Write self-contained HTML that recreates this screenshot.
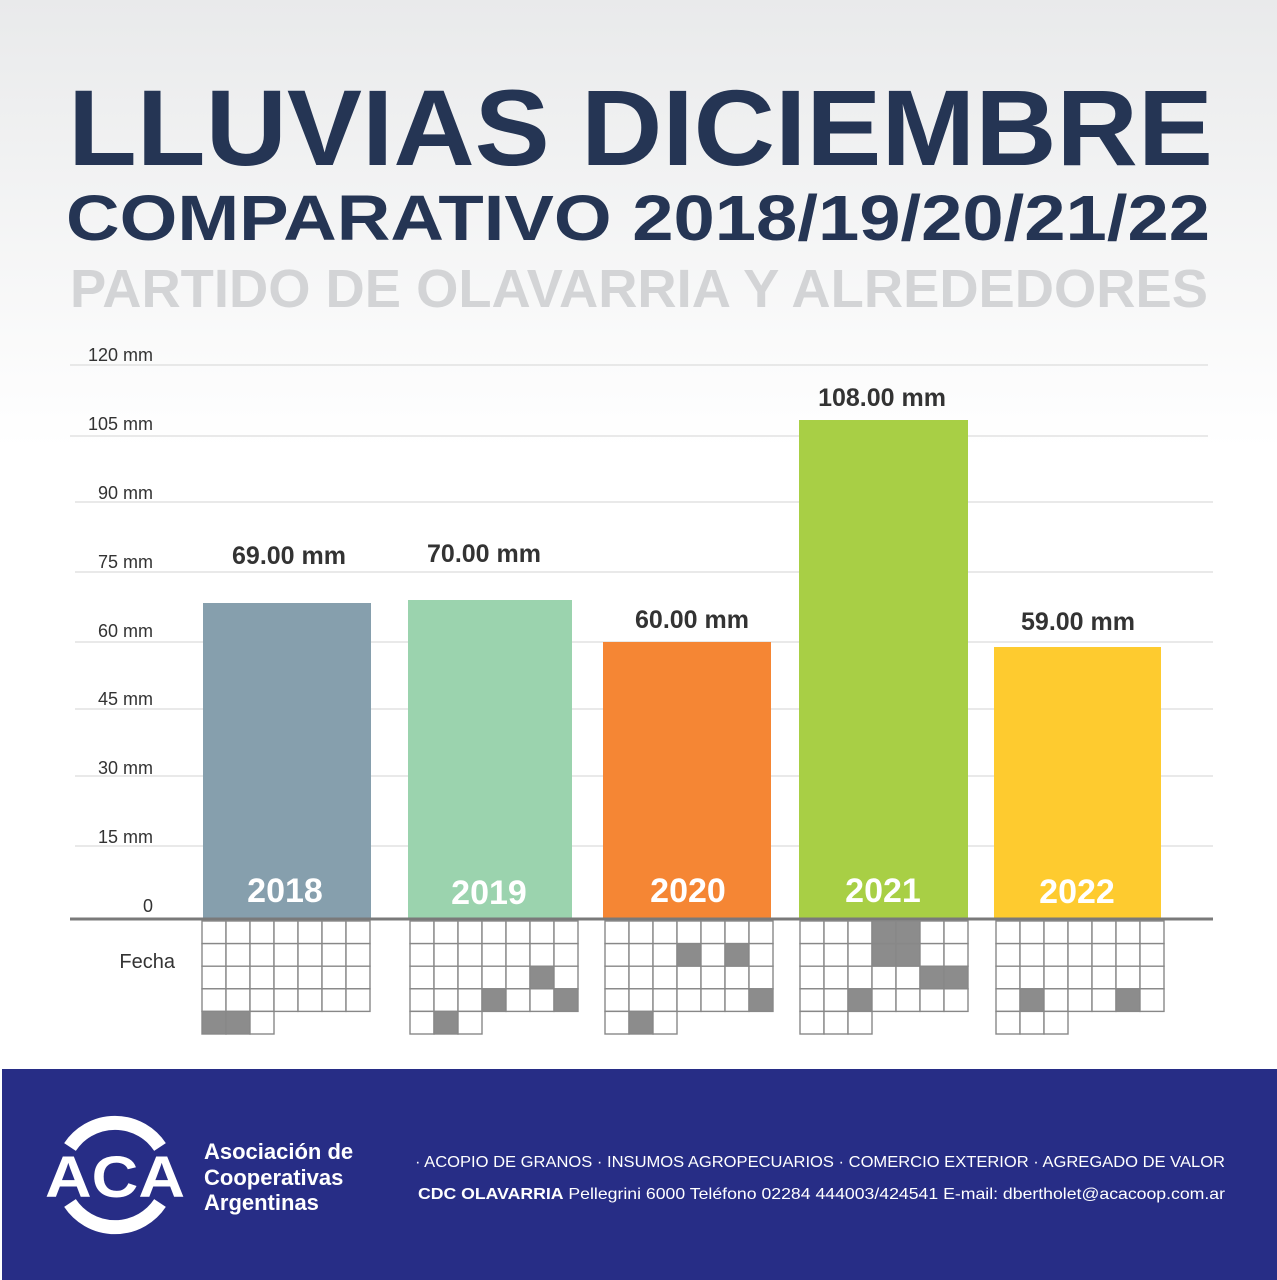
<!DOCTYPE html>
<html><head><meta charset="utf-8"><style>
html,body{margin:0;padding:0;width:1277px;height:1280px;overflow:hidden;background:#fff}
svg{display:block}
</style></head><body>
<svg id="s" width="1277" height="1280" viewBox="0 0 1277 1280" xmlns="http://www.w3.org/2000/svg" font-family="'Liberation Sans', sans-serif">
<defs>
<linearGradient id="bg" x1="0" y1="0" x2="0" y2="1">
<stop offset="0" stop-color="#e9eaeb"/><stop offset="0.35" stop-color="#ffffff"/><stop offset="1" stop-color="#ffffff"/>
</linearGradient>
</defs>
<rect x="0" y="0" width="1277" height="1280" fill="url(#bg)"/>
<text x="68" y="165" font-size="108" font-weight="bold" fill="#253554" textLength="1145" lengthAdjust="spacingAndGlyphs">LLUVIAS DICIEMBRE</text>
<text x="66" y="240" font-size="64" font-weight="bold" fill="#253554" textLength="1144" lengthAdjust="spacingAndGlyphs">COMPARATIVO 2018/19/20/21/22</text>
<text x="70" y="307" font-size="54" font-weight="bold" fill="#d3d4d6" textLength="1138" lengthAdjust="spacingAndGlyphs">PARTIDO DE OLAVARRIA Y ALREDEDORES</text>
<g stroke="#dcdcdc" stroke-width="1.2">
<line x1="70" y1="365" x2="1208" y2="365"/><line x1="70" y1="436" x2="1208" y2="436"/>
<line x1="75" y1="502" x2="1213" y2="502"/><line x1="75" y1="572" x2="1213" y2="572"/>
<line x1="75" y1="642" x2="1213" y2="642"/><line x1="75" y1="709" x2="1213" y2="709"/>
<line x1="75" y1="776" x2="1213" y2="776"/><line x1="75" y1="846" x2="1213" y2="846"/>
</g>
<g font-size="18" fill="#333" text-anchor="end">
<text x="153" y="361">120 mm</text><text x="153" y="430">105 mm</text><text x="153" y="499">90 mm</text>
<text x="153" y="568">75 mm</text><text x="153" y="637">60 mm</text><text x="153" y="705">45 mm</text>
<text x="153" y="774">30 mm</text><text x="153" y="843">15 mm</text><text x="153" y="912">0</text>
</g>
<text x="175" y="968" font-size="20" fill="#333" text-anchor="end">Fecha</text>
<rect x="203" y="603" width="168" height="316" fill="#869fad"/>
<rect x="408" y="600" width="164" height="319" fill="#9bd3ae"/>
<rect x="603" y="642" width="168" height="277" fill="#f58634"/>
<rect x="799" y="420" width="169" height="499" fill="#a8cf45"/>
<rect x="994" y="647" width="167" height="272" fill="#fecb2f"/>
<g font-size="25" font-weight="bold" fill="#333" text-anchor="middle">
<text x="289" y="564">69.00 mm</text><text x="484" y="562">70.00 mm</text>
<text x="692" y="628">60.00 mm</text><text x="882" y="406">108.00 mm</text>
<text x="1078" y="630">59.00 mm</text>
</g>
<g font-size="34" font-weight="bold" fill="#fff" text-anchor="middle">
<text x="285" y="902">2018</text><text x="489" y="904">2019</text><text x="688" y="902">2020</text>
<text x="883" y="902">2021</text><text x="1077" y="903">2022</text>
</g>
<line x1="70" y1="919" x2="1213" y2="919" stroke="#7a7a7a" stroke-width="3"/>
<g id="cal"></g>
<rect x="2" y="1069" width="1275" height="211" fill="#272d86"/>
<g stroke="#fff" stroke-width="14" fill="none">
<path d="M 70 1147 A 54 54 0 0 1 160 1147"/>
<path d="M 70 1203 A 54 54 0 0 0 160 1203"/>
</g>
<text x="115" y="1197" font-size="58" font-weight="bold" fill="#fff" text-anchor="middle" textLength="140" lengthAdjust="spacingAndGlyphs">ACA</text>
<g font-size="22" font-weight="bold" fill="#fff">
<text x="204" y="1159">Asociación de</text><text x="204" y="1185">Cooperativas</text><text x="204" y="1210">Argentinas</text>
</g>
<text x="415" y="1167" font-size="16" fill="#fff" textLength="810" lengthAdjust="spacingAndGlyphs">·  ACOPIO DE GRANOS  ·  INSUMOS AGROPECUARIOS  ·  COMERCIO EXTERIOR  ·  AGREGADO DE VALOR</text>
<text x="418" y="1199" font-size="16" fill="#fff" textLength="807" lengthAdjust="spacingAndGlyphs"><tspan font-weight="bold">CDC OLAVARRIA</tspan> Pellegrini 6000 Teléfono 02284 444003/424541 E-mail: dbertholet@acacoop.com.ar</text>
</svg>
<script>
var cals=[[202,[[4,0],[4,1]]],[410,[[2,5],[3,3],[3,6],[4,1]]],[605,[[1,3],[1,5],[3,6],[4,1]]],[800,[[0,3],[0,4],[1,3],[1,4],[2,5],[2,6],[3,2]]],[996,[[3,1],[3,5]]]];
var g=document.getElementById('cal'),h='';
cals.forEach(function(c){var x0=c[0],cw=24,ch=22.6,y0=921;
for(var r=0;r<5;r++){for(var k=0;k<7;k++){if(r==4&&k>2)continue;
var sh=c[1].some(function(p){return p[0]==r&&p[1]==k;});
h+='<rect x="'+(x0+k*cw)+'" y="'+(y0+r*ch)+'" width="'+cw+'" height="'+ch+'" fill="'+(sh?'#8c8c8c':'#fff')+'" stroke="#888" stroke-width="1.4"/>';}}});
g.innerHTML=h;
</script>
</body></html>
